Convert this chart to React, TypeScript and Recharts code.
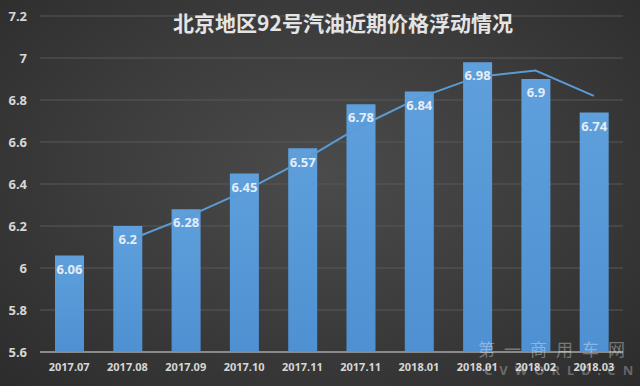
import React from 'react';
import { ComposedChart, Bar, Line, XAxis, YAxis, CartesianGrid, LabelList } from 'recharts';

const months = ['2017.07', '2017.08', '2017.09', '2017.10', '2017.11', '2017.11', '2018.01', '2018.01', '2018.02', '2018.03'];
const prices = [6.06, 6.2, 6.28, 6.45, 6.57, 6.78, 6.84, 6.98, 6.9, 6.74];
const trend = [null, 6.13, 6.24, 6.365, 6.51, 6.675, 6.81, 6.91, 6.94, 6.82];
const yTicks = [5.6, 5.8, 6, 6.2, 6.4, 6.6, 6.8, 7, 7.2];
const title = '北京地区92号汽油近期价格浮动情况';

const data = months.map((m, i) => ({ idx: i, month: m, price: prices[i], trend: trend[i] }));

export default function App() {
  return (
    <div
      style={{
        position: 'absolute',
        left: 0,
        top: 0,
        width: 640,
        height: 386,
        background: 'radial-gradient(ellipse at 50% 45%, #4b4b4b 0%, #3c3c3c 50%, #2c2c2c 100%)',
        overflow: 'hidden',
        fontFamily: '"Noto Sans", "DejaVu Sans", sans-serif',
      }}
    >
      <ComposedChart width={640} height={386} data={data} margin={{ top: 16, right: 17, bottom: 4, left: 0 }}>
        <defs>
          <linearGradient id="barGrad" x1="0" y1="0" x2="0" y2="1">
            <stop offset="0%" stopColor="#5e9fdc" />
            <stop offset="100%" stopColor="#4f90d2" />
          </linearGradient>
        </defs>
        <CartesianGrid vertical={false} stroke="#585858" strokeWidth={1} />
        <XAxis
          dataKey="idx"
          type="category"
          tickFormatter={(v: number) => months[v]}
          tick={{ fill: '#d6d6d6', fontSize: 11, fontWeight: 'bold' }}
          tickLine={false}
          tickSize={0}
          tickMargin={11}
          axisLine={{ stroke: '#8a8a8a', strokeWidth: 2 }}
          height={30}
          interval={0}
        />
        <YAxis
          domain={[5.6, 7.2]}
          ticks={yTicks}
          tickFormatter={(v: number) => String(v)}
          tick={{ fill: '#d6d6d6', fontSize: 13, fontWeight: 'bold' }}
          tickLine={false}
          axisLine={false}
          tickSize={0}
          tickMargin={13}
          width={40}
          allowDataOverflow
        />
        <Bar dataKey="price" fill="url(#barGrad)" barSize={29} isAnimationActive={false}>
          <LabelList
            dataKey="price"
            position="insideTop"
            offset={9}
            fill="#e4edf8"
            fontSize={13}
            fontWeight="bold"
          />
        </Bar>
        <Line
          dataKey="trend"
          type="linear"
          stroke="#5b9bd5"
          strokeWidth={2}
          dot={false}
          activeDot={false}
          isAnimationActive={false}
        />
      </ComposedChart>
      <div
        style={{
          position: 'absolute',
          left: 0,
          width: 686,
          top: 8,
          textAlign: 'center',
          color: '#e4e4e4',
          fontSize: 21,
          fontWeight: 'bold',
          fontFamily: '"Noto Sans CJK SC", sans-serif',
          lineHeight: '28px',
        }}
      >
        {title}
      </div>
      <div
        style={{
          position: 'absolute',
          left: 478,
          top: 339,
          color: 'rgba(255,255,255,0.35)',
          fontSize: 17,
          letterSpacing: 9,
          fontFamily: '"Noto Sans CJK SC", sans-serif',
          lineHeight: '20px',
        }}
      >
        第一商用车网
      </div>
      <div
        style={{
          position: 'absolute',
          left: 484,
          top: 362,
          color: 'rgba(255,255,255,0.28)',
          fontSize: 13,
          fontWeight: 'bold',
          letterSpacing: 7,
          lineHeight: '16px',
        }}
      >
        CVWORLD.CN
      </div>
    </div>
  );
}
